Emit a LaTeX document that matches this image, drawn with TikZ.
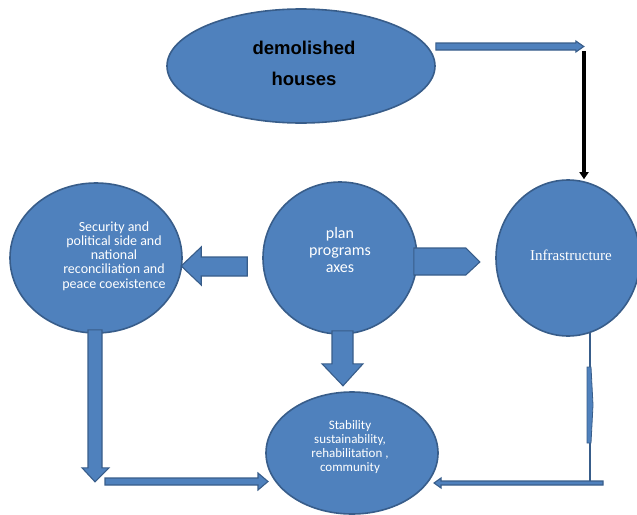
\documentclass[tikz,border=0pt]{standalone}
\usepackage{fontspec}
\usepackage{xcolor}
\usetikzlibrary{calc,positioning,shapes.geometric,arrows.meta}
\newfontfamily\calibrifont{Carlito}
\newfontfamily\arialfont{Liberation Sans}
\newfontfamily\cambriafont{Liberation Serif}
\definecolor{color_fill_default}{HTML}{4f81bd}
\definecolor{color_line_default}{HTML}{385d8a}

\begin{document}
\begin{tikzpicture}[x=1pt,y=-1pt,
	bubble/.style={ellipse,draw=color_line_default,line width=1.6pt,fill=color_fill_default,inner sep=0pt},
	blockarrow/.style={draw=color_line_default,line width=1.1pt,fill=color_fill_default,line join=miter},
	bubbletext/.style={text=white,align=center,inner sep=0pt}]
				\useasboundingbox (0, 0) rectangle (637, 514);
				% Points
				\coordinate (topcorner) at (584, 46);
				\coordinate (leftcorner) at (95, 481);
				\coordinate (rightcorner) at (590, 482);
				
				% Thin connector on the right
				\draw[line width=2pt, color_line_default] (590, 326) -- (rightcorner);
				\draw[blockarrow, line width=0.8pt]
				(587, 367) -- (591, 367) -- (593, 405) -- (591, 443) -- (587, 443) -- cycle;
				
				% Bubbles
				\node[bubble, minimum width=268pt, minimum height=114pt] (houses) at (301, 66) {};
				\node[bubble, minimum width=172pt, minimum height=150pt] (security) at (96, 258) {};
				\node[bubble, minimum width=154pt, minimum height=152pt] (plan) at (340, 258) {};
				\node[bubble, minimum width=144pt, minimum height=156pt] (infra) at (568, 258) {};
				\node[bubble, minimum width=172pt, minimum height=122pt] (stability) at (352, 453) {};
				
				% Texts
				\node[inner sep=0pt, align=center, font=\arialfont\bfseries\fontsize{18.5}{31}\selectfont] (housestext) at (304, 63) {demolished\\houses};
				\node[bubbletext, font=\calibrifont\fontsize{14}{14.2}\selectfont] (securitytext) at (114, 256)
					{Security and\\political side and\\national\\reconciliation and\\peace coexistence};
				\node[bubbletext, font=\calibrifont\fontsize{16}{17}\selectfont] (plantext) at (340, 250) {plan\\programs\\axes};
				\node[bubbletext, font=\cambriafont\fontsize{15}{17}\selectfont] (infratext) at (571, 255) {Infrastructure};
				\node[bubbletext, font=\calibrifont\fontsize{13}{14}\selectfont] (stabilitytext) at (350, 447)
					{Stability\\sustainability,\\rehabilitation ,\\community};
				
				% Block arrows
				\draw[blockarrow] ($(houses.east)+(0,-23)$) -- ++(140,0) -- ++(0,-2) -- ++(8,5.5) -- ++(-8,5.5) -- ++(0,-2) -- ++(-140,0) -- cycle;
				\draw[blockarrow] ($(plan.west)+(-15,-1)$) -- ++(-46,0) -- ++(0,-10) -- ++(-20,19) -- ++(20,19) -- ++(0,-9) -- ++(46,0) -- cycle;
				\draw[blockarrow] ($(plan.east)+(-4,-10)$) -- ++(52,0) -- ++(14,14) -- ++(-14,13) -- ++(-52,0) -- cycle;
				\draw[blockarrow] ($(plan.south)+(-8,-4)$) -- ++(0,33) -- ++(-10,0) -- ++(21,22) -- ++(20,-22) -- ++(-10,0) -- ++(0,-33) -- cycle;
				\draw[blockarrow] ($(security.south)+(-8,-4)$) -- ++(0,138) -- ++(-6,0) -- ++(13,14) -- ++(14,-14) -- ++(-7,0) -- ++(0,-138) -- cycle;
				\draw[blockarrow] ($(leftcorner)+(10,-3)$) -- ++(153,0) -- ++(0,-5) -- ++(10,8.5) -- ++(-10,8.5) -- ++(0,-5) -- ++(-153,0) -- cycle;
				\draw[blockarrow] ($(rightcorner)+(13,-1)$) -- ++(-162,0) -- ++(0,-3) -- ++(-7,5) -- ++(7,5) -- ++(0,-3) -- ++(162,0) -- cycle;
				
				% Black connector
				\draw[line width=4pt, -{Triangle[length=7pt, width=9pt]}] ($(topcorner)+(0,5)$) -- (topcorner |- infra.north);
			\end{tikzpicture}
\end{document}
